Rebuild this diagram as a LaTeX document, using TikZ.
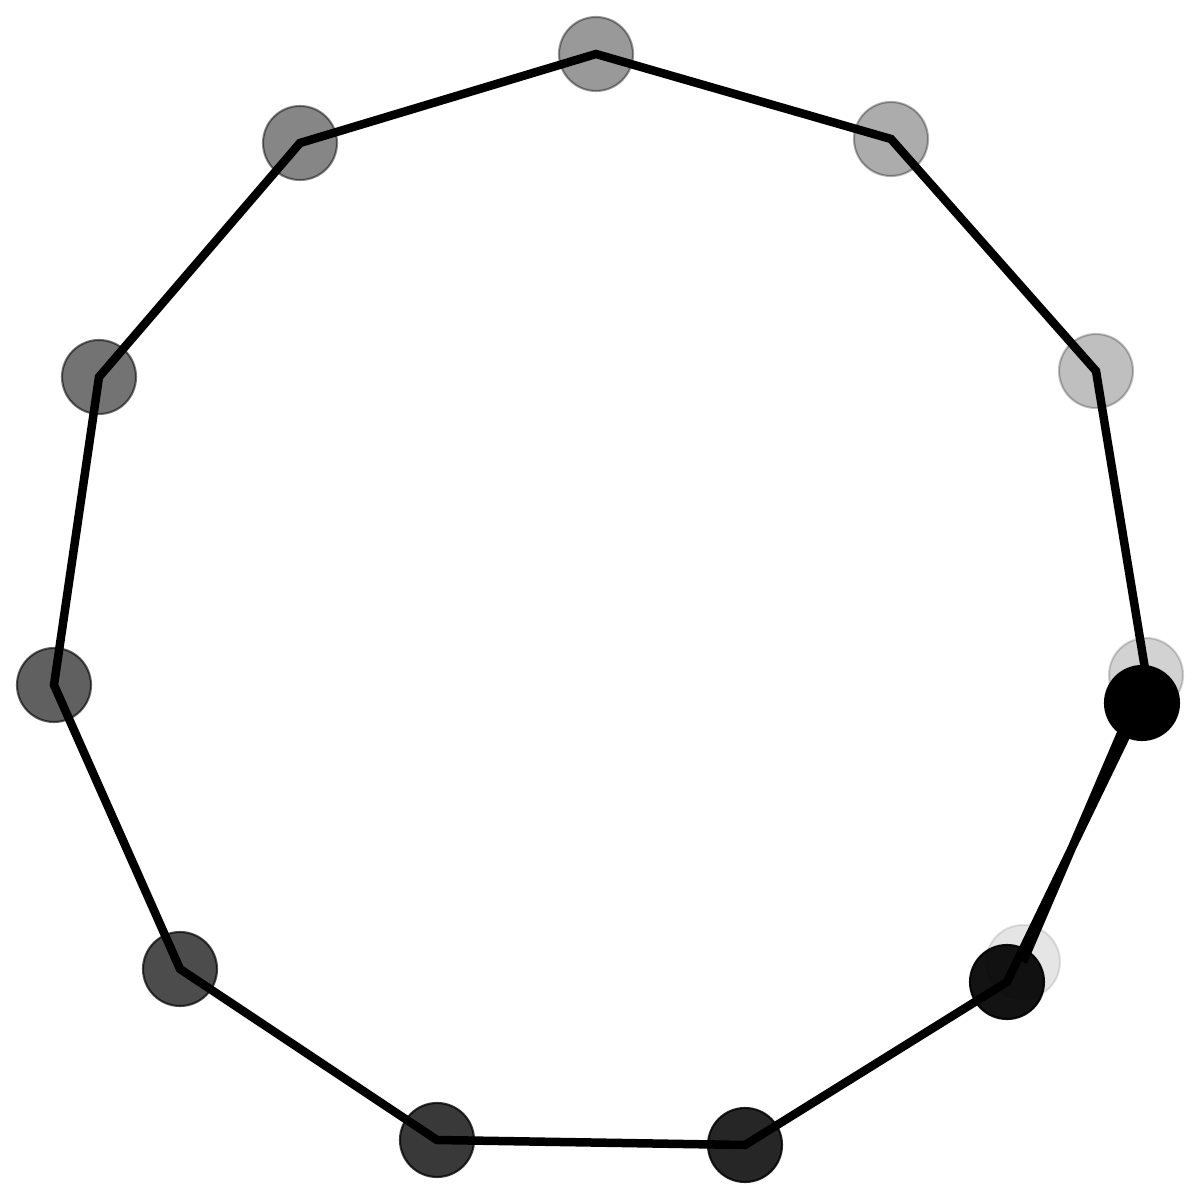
\documentclass[tikz,border=0pt]{standalone}

\begin{document}
\begin{tikzpicture}[dot/.style={circle,fill=black,draw=black,line width=0.6pt,minimum size=0.74cm,inner sep=0pt}]

\useasboundingbox (0,0) rectangle (12,12);

\node [dot,opacity=1] (A) at (11.42,4.97) {};
\node [dot,opacity=0.925] (B) at (10.07,2.18) {};
\node [dot,opacity=0.85] (C) at (7.45,0.55) {};
\node [dot,opacity=0.775] (D) at (4.37,0.60) {};
\node [dot,opacity=0.7] (E) at (1.80,2.31) {};
\node [dot,opacity=0.625] (F) at (0.54,5.15) {};
\node [dot,opacity=0.55] (G) at (0.99,8.23) {};
\node [dot,opacity=0.475] (H) at (3.00,10.57) {};
\node [dot,opacity=0.4] (I) at (5.96,11.46) {};
\node [dot,opacity=0.325] (J) at (8.91,10.61) {};
\node [dot,opacity=0.25] (K) at (10.96,8.29) {};
\node [dot,opacity=0.175] (L) at (11.46,5.25) {};
\node [dot,opacity=0.1] (M) at (10.23,2.38) {};

\draw [line width=0.085cm] (A.center) -- (B.center) -- (C.center) -- (D.center) -- (E.center) -- (F.center) -- (G.center)
  -- (H.center) -- (I.center) -- (J.center) -- (K.center) -- (L.center) -- (M.center);
\end{tikzpicture}
\end{document}
